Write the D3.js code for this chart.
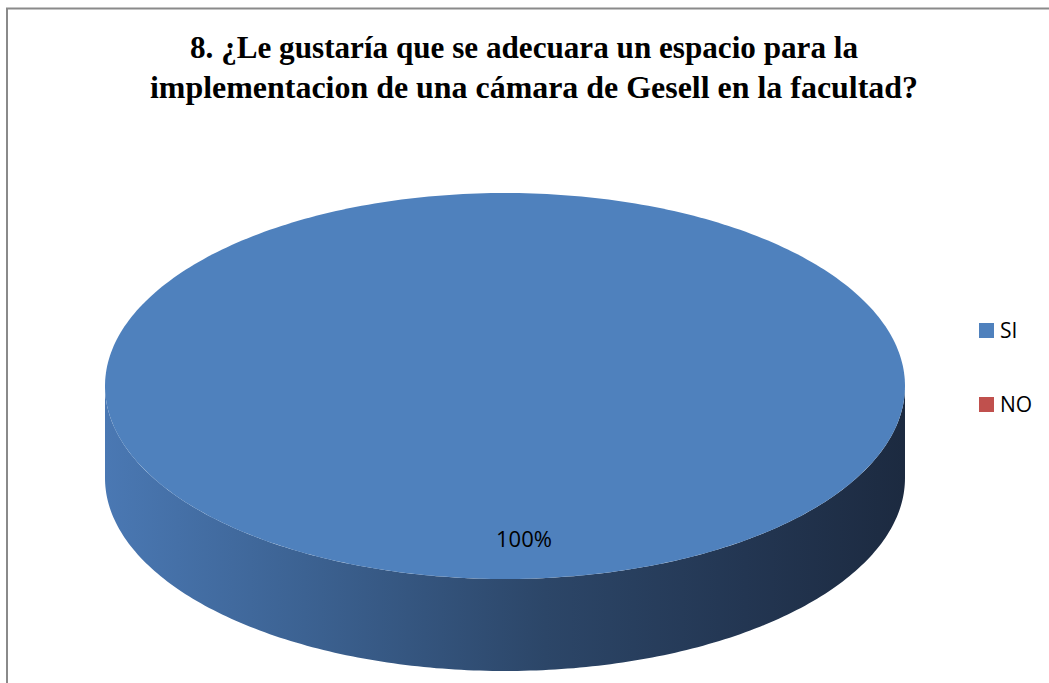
<!DOCTYPE html>
<html>
<head>
<meta charset="utf-8">
<script src="https://cdn.jsdelivr.net/npm/d3@7"></script>
<style>
  html, body { margin: 0; padding: 0; background: #fff; }
  svg { display: block; }
  .title { font-family: "Liberation Serif", "Times New Roman", "DejaVu Serif", serif; font-weight: bold; }
</style>
</head>
<body>
<svg id="chart" width="1049" height="683"></svg>
<script>
const categories = ["SI", "NO"];
const values = [100, 0];
const colors = ["#4f81bd", "#c0504d"];
const titleLines = ["8. ¿Le gustaría que se adecuara un espacio para la",
                    "implementacion de una cámara de Gesell en la facultad?"];

const svg = d3.select("#chart");
const W = 1049, H = 683;

// frame
svg.append("rect").attr("x", 7).attr("y", 8.5).attr("width", W + 20).attr("height", H + 20)
  .attr("fill", "#fff").attr("stroke", "#8a8a8a").attr("stroke-width", 2);

// title
const titleGeom = [{cx: 524, w: 668}, {cx: 534, w: 768}];
svg.append("g").selectAll("text").data(titleLines).join("text")
  .attr("class", "title")
  .attr("x", (d, i) => titleGeom[i].cx).attr("y", (d, i) => 58 + i * 40)
  .attr("text-anchor", "middle")
  .attr("font-size", 31).attr("fill", "#000")
  .attr("textLength", (d, i) => titleGeom[i].w)
  .attr("lengthAdjust", "spacingAndGlyphs")
  .text(d => d);

// 3D pie geometry
const cx = 505, cy = 386, rx = 400, ry = 193, depth = 92;
const pie = d3.pie().sort(null).value(d => d)(values);

const defs = svg.append("defs");
const grad = defs.append("linearGradient").attr("id", "side").attr("x1", 0).attr("x2", 1).attr("y1", 0).attr("y2", 0);
[["0%", "#4a78b3"], ["25%", "#3c6292"], ["55%", "#2c4668"], ["80%", "#233652"], ["100%", "#1c2a40"]]
  .forEach(([o, c]) => grad.append("stop").attr("offset", o).attr("stop-color", c));

const px = a => cx + rx * Math.sin(a);
const py = (a, dy = 0) => cy - ry * Math.cos(a) + dy;
const line = d3.line();

// side walls (front visible part: angles between PI/2 and 3PI/2)
pie.forEach((s, i) => {
  if (s.endAngle - s.startAngle <= 0) return;
  const a0 = Math.max(s.startAngle, Math.PI / 2), a1 = Math.min(s.endAngle, 3 * Math.PI / 2);
  if (a1 <= a0) return;
  const n = 200;
  const top = d3.range(n + 1).map(k => a0 + (a1 - a0) * k / n);
  const pts = top.map(a => [px(a), py(a)]).concat(top.slice().reverse().map(a => [px(a), py(a, depth)]));
  svg.append("path").attr("d", line(pts) + "Z").attr("fill", "url(#side)");
});

// top faces
pie.forEach((s, i) => {
  if (s.endAngle - s.startAngle <= 0) return;
  const n = 360;
  const angs = d3.range(n + 1).map(k => s.startAngle + (s.endAngle - s.startAngle) * k / n);
  let pts = angs.map(a => [px(a), py(a)]);
  const full = s.endAngle - s.startAngle >= 2 * Math.PI - 1e-6;
  if (!full) pts = [[cx, cy]].concat(pts);
  svg.append("path").attr("d", line(pts) + "Z").attr("fill", colors[i]);
});

// data labels
pie.forEach((s, i) => {
  if (s.endAngle - s.startAngle <= 0) return;
  const mid = (s.startAngle + s.endAngle) / 2;
  const total = d3.sum(values);
  svg.append("text")
    .attr("x", cx + 0.8 * rx * Math.sin(mid) + 19)
    .attr("y", cy - 0.8 * ry * Math.cos(mid) + 7)
    .attr("text-anchor", "middle")
    .attr("font-family", "'Open Sans', 'Liberation Sans', sans-serif")
    .attr("font-size", 22).attr("fill", "#000")
    .text(d3.format(".0%")(values[i] / total));
});

// legend
const lg = svg.append("g").selectAll("g").data(categories).join("g")
  .attr("transform", (d, i) => `translate(979, ${323 + i * 74})`);
lg.append("rect").attr("width", 15).attr("height", 15).attr("fill", (d, i) => colors[i]);
lg.append("text").attr("x", 21).attr("y", 15)
  .attr("font-family", "'Open Sans', 'Liberation Sans', sans-serif")
  .attr("font-size", 21).attr("fill", "#000").text(d => d);
</script>
</body>
</html>
